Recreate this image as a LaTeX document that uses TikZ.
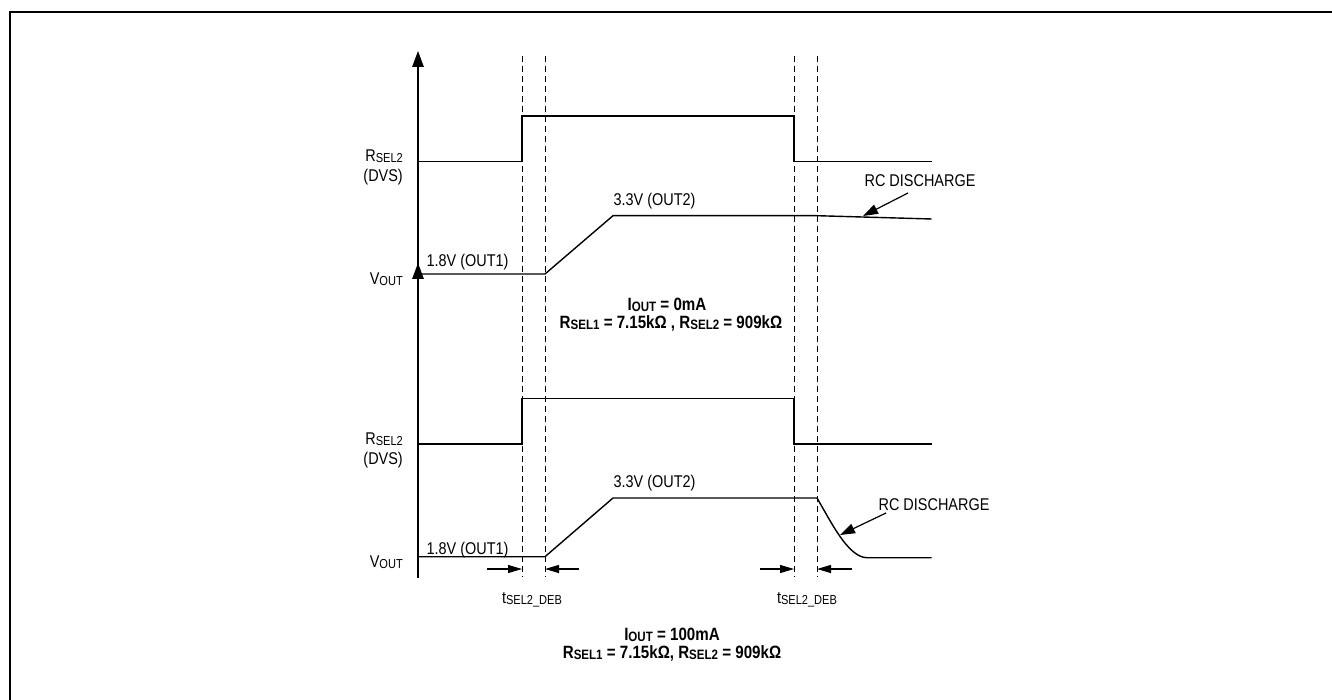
\documentclass[tikz,border=0pt]{standalone}
\usepackage{fontspec}
\setmainfont[FakeStretch=0.85]{Liberation Sans}
\usetikzlibrary{arrows.meta}
\newcommand\sbs[1]{\raisebox{-0.6pt}{\fontsize{13}{13}\selectfont #1}}
\newcommand\bsbs[1]{\raisebox{-1pt}{\fontsize{13.6}{14}\selectfont #1}}
\begin{document}
\begin{tikzpicture}[x=1pt,y=-1pt,
  trace/.style={line width=1.4pt, line join=miter},
  guide/.style={line width=0.9pt, dash pattern=on 6pt off 4pt},
  axisarrow/.style={line width=1.4pt, -{Triangle[length=16pt,width=11.5pt]}},
  rcarrow/.style={line width=1.2pt, -{Triangle[length=15pt,width=10pt]}},
  debarrow/.style={line width=1.2pt, -{Triangle[length=14pt,width=8pt]}},
  lbl/.style={inner sep=0pt, font=\fontsize{17}{19}\selectfont},
  blbl/.style={inner sep=0pt, font=\fontsize{17.8}{19}\selectfont\bfseries}]
\useasboundingbox (0,0) rectangle (1332,700);
\fill[white] (0,0) rectangle (1332,700);
\draw[line width=2pt] (1332,12.5) -- (9.5,12.5) -- (9.5,700);

% axes
\coordinate (a1b) at (418,295); \coordinate (a1t) at (418,51);
\coordinate (a2b) at (418,578); \coordinate (a2t) at (418,263);
\draw[axisarrow] (a1b) -- (a1t);
\draw[axisarrow] (a2b) -- (a2t);

% dashed guides
\foreach \n/\x in {g1/522,g2/545,g3/794,g4/817}{
  \coordinate (\n t) at (\x,56); \coordinate (\n b) at (\x,577);
  \draw[guide] (\n t) -- (\n b);
}

% top panel traces
\draw[trace] (418,161.7) -- (522,161.7) -- (522,116) -- (794,116) -- (794,161.7) -- (931.7,161.7);
\draw[trace] (418,274) -- (545,274) -- (613,215.7) -- (817,215.7) -- (931.7,219);

% bottom panel traces
\draw[trace] (418,444) -- (522,444) -- (522,398.3) -- (794,398.3) -- (794,444) -- (931.7,444);
\draw[trace] (418,556.7) -- (545,556.7) -- (613,498) -- (817,498)
  .. controls (830,520) and (848,557.7) .. (867,557.7) -- (931.7,557.7);

% labels top
\node[lbl,anchor=east] (r1) at (403,156) {R\sbs{SEL2}};
\node[lbl,anchor=east] (d1) at (403,177) {(DVS)};
\node[lbl,anchor=east] (v1) at (403,279) {V\sbs{OUT}};
\node[lbl] (o11) at (467.5,262) {1.8V (OUT1)};
\node[lbl] (o21) at (654.5,201) {3.3V (OUT2)};
\node[lbl] (rc1) at (920,181) {RC DISCHARGE};
\coordinate (rc1s) at (908,193); \coordinate (rc1e) at (863,216);
\draw[rcarrow] (rc1s) -- (rc1e);
\node[blbl] (i1) at (667,305) {I\bsbs{OUT} = 0mA};
\node[blbl] (s1) at (671,323) {R\bsbs{SEL1} = 7.15kΩ , R\bsbs{SEL2} = 909kΩ};

% labels bottom
\node[lbl,anchor=east] (r2) at (403,439) {R\sbs{SEL2}};
\node[lbl,anchor=east] (d2) at (403,460) {(DVS)};
\node[lbl,anchor=east] (v2) at (403,562) {V\sbs{OUT}};
\node[lbl] (o12) at (467.5,550) {1.8V (OUT1)};
\node[lbl] (o22) at (654.5,483) {3.3V (OUT2)};
\node[lbl] (rc2) at (934,505) {RC DISCHARGE};
\coordinate (rc2s) at (886,513); \coordinate (rc2e) at (840,535);
\draw[rcarrow] (rc2s) -- (rc2e);

% debounce arrows
\coordinate (d1s) at (487,569); \coordinate (d1e) at (522,569);
\coordinate (d2s) at (579,569); \coordinate (d2e) at (545,569);
\coordinate (d3s) at (760,569); \coordinate (d3e) at (794,569);
\coordinate (d4s) at (852,569); \coordinate (d4e) at (817,569);
\draw[debarrow] (d1s) -- (d1e);
\draw[debarrow] (d2s) -- (d2e);
\draw[debarrow] (d3s) -- (d3e);
\draw[debarrow] (d4s) -- (d4e);
\node[lbl] (t1) at (532,600) {t\sbs{SEL2\_DEB}};
\node[lbl] (t2) at (807,600) {t\sbs{SEL2\_DEB}};

\node[blbl] (i2) at (672,635) {I\bsbs{OUT} = 100mA};
\node[blbl] (s2) at (672,653) {R\bsbs{SEL1} = 7.15kΩ, R\bsbs{SEL2} = 909kΩ};
\end{tikzpicture}
\end{document}
